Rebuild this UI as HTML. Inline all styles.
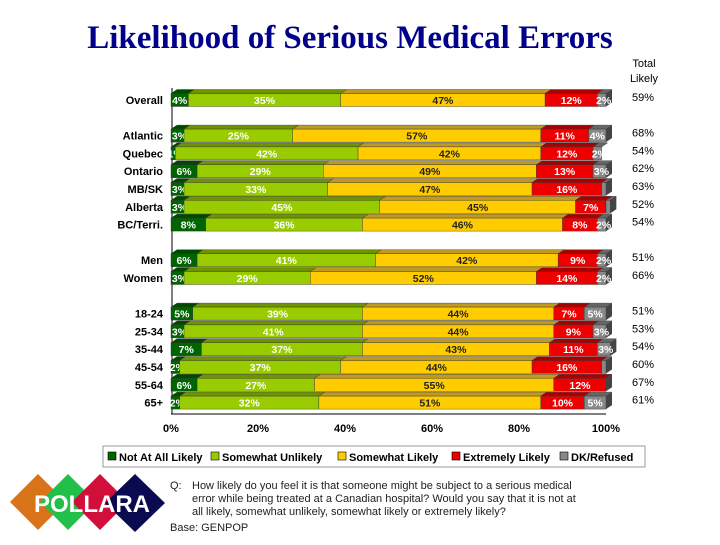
<!DOCTYPE html>
<html><head><meta charset="utf-8"><style>
body{margin:0;background:#fff;width:720px;height:540px;overflow:hidden;font-family:"Liberation Sans",sans-serif}
</style></head><body>
<svg id="c" width="720" height="540" xmlns="http://www.w3.org/2000/svg">
<text x="350" y="48" text-anchor="middle" font-family="Liberation Serif" font-weight="bold" font-size="33" fill="#00008b">Likelihood of Serious Medical Errors</text>
<text x="644" y="67" text-anchor="middle" font-size="11">Total</text>
<text x="644" y="82" text-anchor="middle" font-size="11">Likely</text>
<g id="bars"></g>
<rect x="103" y="446" width="542" height="21" fill="#fff" stroke="#999"/>
<g id="legend"></g>
<g>
<polygon points="38,474 66,502 38,530 10,502" fill="#d9731a"/>
<polygon points="68,474 96,502 68,530 40,502" fill="#22c04a"/>
<polygon points="100,474 128,502 100,530 72,502" fill="#d0103a"/>
<polygon points="135,474 165,503 135,532 105,503" fill="#0a0a50"/>
<text x="92" y="512" text-anchor="middle" font-weight="bold" font-size="24" fill="#fff">POLLARA</text>
</g>
<g font-size="11" fill="#222">
<text x="170" y="489">Q:</text>
<text x="192" y="489">How likely do you feel it is that someone might be subject to a serious medical</text>
<text x="192" y="502">error while being treated at a Canadian hospital?  Would you say that it is not at</text>
<text x="192" y="515">all likely, somewhat unlikely, somewhat likely or extremely likely?</text>
<text x="170" y="531">Base: GENPOP</text>
</g>
</svg>
<script>
const categories=["Overall","Atlantic","Quebec","Ontario","MB/SK","Alberta","BC/Terri.","Men","Women","18-24","25-34","35-44","45-54","55-64","65+"];
const slots=[0,2,3,4,5,6,7,9,10,12,13,14,15,16,17];
const notAtAll=[4,3,1,6,3,3,8,6,3,5,3,7,2,6,2];
const somewhatUnlikely=[35,25,42,29,33,45,36,41,29,39,41,37,37,27,32];
const somewhatLikely=[47,57,42,49,47,45,46,42,52,44,44,43,44,55,51];
const extremelyLikely=[12,11,12,13,16,7,8,9,14,7,9,11,16,12,10];
const dkRefused=[2,4,2,3,1,1,2,2,2,5,3,3,1,0,5];
const totalLikely=[59,68,54,62,63,52,54,51,66,51,53,54,60,67,61];
const xTicks=[0,20,40,60,80,100];
const seriesNames=["Not At All Likely","Somewhat Unlikely","Somewhat Likely","Extremely Likely","DK/Refused"];
const colors=["#006400","#99cc00","#ffcc00","#ee0000","#888888"];
const tops=["#004a00","#6f9400","#c09a20","#aa0000","#666"];
const textCol=["#fff","#fff","#222","#fff","#fff"];
const series=[notAtAll,somewhatUnlikely,somewhatLikely,extremelyLikely,dkRefused];
const NS="http://www.w3.org/2000/svg";
const X0=171,W=435,D=6,Y0=100,SL=17.8,H=13;
const xs=v=>X0+v/100*W;
const ys=s=>Y0+s*SL;
const g=document.getElementById('bars');
function el(t,a,p){const e=document.createElementNS(NS,t);for(const k in a)e.setAttribute(k,a[k]);(p||g).appendChild(e);return e;}
let ax=el('line',{x1:X0+1,y1:88,x2:X0+1,y2:414,stroke:'#000'});


let bx=el('line',{x1:X0,y1:414,x2:xs(100),y2:414,stroke:'#000'});


xTicks.forEach(t=>{
 const tx=el('text',{x:xs(t),y:432,'text-anchor':'middle','font-size':11,'font-weight':'bold'});
 tx.textContent=t+'%';
 
 
});
categories.forEach((c,i)=>{
 const yc=ys(slots[i]),y=yc-H/2;
 const lb=el('text',{x:163,y:yc+4,'text-anchor':'end','font-size':11,'font-weight':'bold'});
 lb.textContent=c;
 
 
 let acc=0;
 series.forEach((s,k)=>{
  const v=s[i];if(v<=0)return;
  const x1=xs(acc),x2=xs(acc+v);acc+=v;
  const tp=el('polygon',{points:`${x1},${y} ${x1+D},${y-D/1.5} ${x2+D},${y-D/1.5} ${x2},${y}`,fill:tops[k],stroke:'#333','stroke-width':0.4});
  
  
  const r=el('rect',{x:x1,y:y,width:x2-x1,height:H,fill:colors[k],stroke:'#333','stroke-width':0.4});
  
  
  if(acc>=99.5){const sd=el('polygon',{points:`${x2},${y} ${x2+D},${y-D/1.5} ${x2+D},${y+H-D/1.5} ${x2},${y+H}`,fill:'#444'});
   
   }
  if(v>=2||k<4&&v>=1){const t=el('text',{x:(x1+x2)/2+(v<4?2:0),y:yc+4,'text-anchor':'middle','font-size':10.5,'font-weight':'bold',fill:textCol[k]});
   t.textContent=v+'%';
   
   }
 });
 const tl=el('text',{x:643,y:yc+1,'text-anchor':'middle','font-size':11});
 tl.textContent=totalLikely[i]+'%';
 
 
});
const lg=document.getElementById('legend');
const lx=[108,211,338,452,560];
seriesNames.forEach((n,k)=>{
 const r=el('rect',{x:lx[k],y:452,width:8,height:8,fill:colors[k],stroke:'#000','stroke-width':0.6},lg);
 
 
 const t=el('text',{x:lx[k]+11,y:461,'font-size':11,'font-weight':'bold'},lg);
 t.textContent=n;
 
 
});
</script>
</body></html>
